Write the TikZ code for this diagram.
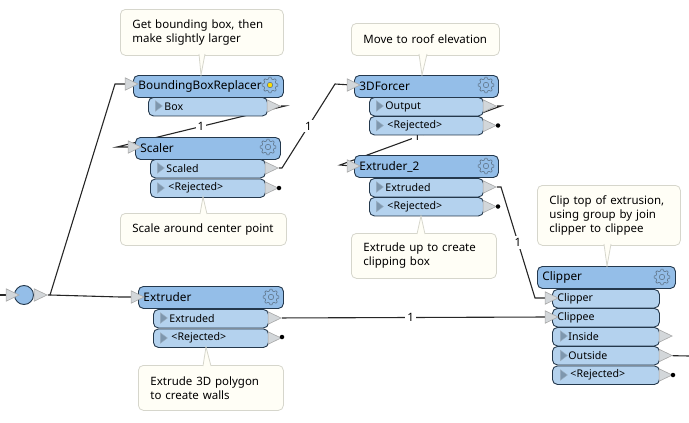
\documentclass[tikz,border=0pt]{standalone}
\usepackage{fontspec}
\setmainfont{Noto Sans}
\usetikzlibrary{shapes.geometric,backgrounds}

\definecolor{hdrblue}{HTML}{94BEE8}
\definecolor{portblue}{HTML}{B4D2EE}
\definecolor{edgeblue}{HTML}{24384C}
\definecolor{trigrey}{HTML}{D3D7DA}
\definecolor{playgrey}{HTML}{7E97AE}
\definecolor{notefill}{HTML}{FFFEF6}
\definecolor{noteline}{HTML}{D6D6CC}
\definecolor{gearline}{HTML}{5E7488}

\tikzset{
  indent/.style={execute at begin node=\hspace*{#1}},
  header/.style={draw=edgeblue, line width=0.9pt, fill=hdrblue, rounded corners=5pt, anchor=north west,
    inner xsep=0pt, inner ysep=0pt, text width=#1, minimum height=22pt, align=left,
    font=\fontsize{11.8}{14}\selectfont, indent=5pt},
  portbox/.style={draw=edgeblue, line width=0.9pt, fill=portblue, rounded corners=5pt, anchor=north west,
    inner xsep=0pt, inner ysep=0pt, text width=#1, minimum height=18.5pt, align=left,
    font=\fontsize{10.6}{13}\selectfont},
  port/.style={portbox=#1, indent=16pt},
  rejport/.style={portbox=#1, indent=18pt},
  inport/.style={portbox=#1, indent=5pt},
  note/.style={draw=noteline, line width=0.8pt, fill=notefill, rounded corners=5pt, anchor=north west,
    inner xsep=12pt, inner ysep=0pt, text width=#1, align=left,
    font=\fontsize{11.5}{14}\selectfont},
  tri/.style={isosceles triangle, isosceles triangle stretches, draw=gray!70, line width=0.6pt, fill=trigrey,
    inner sep=0pt, minimum width=12.5pt, minimum height=13pt},
  play/.style={isosceles triangle, isosceles triangle stretches, draw=playgrey!80, fill=playgrey,
    inner sep=0pt, minimum width=10.5pt, minimum height=7pt},
  wire/.style={draw=black!85, line width=1.1pt},
  count/.style={fill=white, inner sep=2pt, font=\fontsize{11.5}{13}\selectfont},
  enddot/.style={circle, fill=black, inner sep=0pt, minimum size=4.5pt},
  geariconline/.style={draw=gearline, line width=0.6pt, line join=round},
  pics/gearicon/.style={code={
    \draw[geariconline, rounded corners=0.5pt] (9:8)
      \foreach \a in {45,90,...,360} { -- (\a-35:6.3) -- (\a-10:6.3) -- (\a-9:8) -- (\a+9:8) };
    \draw[geariconline, fill=#1] (0,0) circle (2.7);
  }},
  pics/gearicon/.default=hdrblue
}
\newcommand{\notetail}[3]{
  \fill[notefill] #1 -- #2 -- #3 -- cycle;
  \draw[noteline, line width=0.8pt] #1 -- #2 -- #3;
}

\begin{document}
\begin{tikzpicture}[x=1pt,y=-1pt]
\useasboundingbox (0,0) rectangle (689,423);

% start junction
\node[circle, draw=edgeblue, line width=0.9pt, fill=hdrblue, inner sep=0pt, minimum size=19pt] (start) at (24,295) {};
\node[tri] (startin) at (10,295) {};
\node[tri] (startout) at (38,295) {};
\coordinate (left) at (0,295);
\coordinate (split) at (50,295);

% bounding box
\node[header=150pt] (bbox) at (133,75) {BoundingBoxReplacer};
\node[port=119pt] (bboxbox) at (148,97) {Box};
\node[tri] (bboxin) at (129,84) {};
\node[tri] (bboxout) at (271,106) {};
\node[play] at (158,106) {};
\pic at (270,85) {gearicon=yellow!80!orange};

% scaler
\node[header=145pt] (scaler) at (135,137) {Scaler};
\node[port=115pt] (scaled) at (150,159) {Scaled};
\node[rejport=115pt] (scalerrej) at (150,178.5) {<Rejected>};
\node[tri] (scalerin) at (132,147) {};
\node[tri] (scaledout) at (269,168) {};
\node[tri] (scalerrejout) at (269,188) {};
\node[enddot] (scalerdot) at (279,188) {};
\node[play] at (160,168) {};
\node[play] at (160,188) {};
\pic at (268,147) {gearicon};

% extruder
\node[header=145pt] (extruder) at (138,286) {Extruder};
\node[port=115pt] (extruded) at (153,309) {Extruded};
\node[rejport=115pt] (extruderrej) at (153,328.5) {<Rejected>};
\node[tri] (extruderin) at (135,297) {};
\node[tri] (extrudedout) at (272,318) {};
\node[tri] (extruderrejout) at (272,338) {};
\node[enddot] (extruderdot) at (282,337) {};
\node[play] at (163,318) {};
\node[play] at (163,338) {};
\pic at (271,297) {gearicon};

% forcer
\node[header=144pt] (forcer) at (354,75) {3DForcer};
\node[port=114pt] (output) at (369,97) {Output};
\node[rejport=114pt] (forcerrej) at (369,116) {<Rejected>};
\node[tri] (forcerin) at (351,85) {};
\node[tri] (outputout) at (487,106) {};
\node[tri] (forcerrejout) at (487,125.5) {};
\node[enddot] (forcerdot) at (498,125.5) {};
\node[play] at (379,106) {};
\node[play] at (379,125.5) {};
\pic at (486,85) {gearicon};

% second extruder
\node[header=144pt] (extrudertwo) at (354,155) {Extruder\_2};
\node[port=114pt] (extrudedtwo) at (369,178) {Extruded};
\node[rejport=114pt] (extrudertworej) at (369,197) {<Rejected>};
\node[tri] (extrudertwoin) at (351,166) {};
\node[tri] (extrudedtwoout) at (487,187) {};
\node[tri] (extrudertworejout) at (487,206.5) {};
\node[enddot] (extrudertwodot) at (498,206.5) {};
\node[play] at (379,187) {};
\node[play] at (379,206.5) {};
\pic at (486,166) {gearicon};

% clipper
\node[header=138pt] (clipper) at (537,266) {Clipper};
\node[inport=107pt] (clipperport) at (552,289) {Clipper};
\node[inport=107pt] (clippee) at (552,308) {Clippee};
\node[port=107pt] (inside) at (552,327) {Inside};
\node[port=107pt] (outside) at (552,346) {Outside};
\node[rejport=107pt] (clipperrej) at (552,365.5) {<Rejected>};
\node[tri] (clipperin) at (549,298) {};
\node[tri] (clippeein) at (549,317) {};
\node[tri] (insideout) at (663,336) {};
\node[tri] (outsideout) at (663,355.5) {};
\node[tri] (clipperrejout) at (663,375) {};
\node[enddot] (clipperdot) at (673,375) {};
\node[play] at (563,336) {};
\node[play] at (563,355.5) {};
\node[play] at (563,375) {};
\pic at (662,277) {gearicon};
\coordinate (right) at (689,356);

% annotations
\node[note=139pt, minimum height=46pt] (bboxnote) at (120,9) {Get bounding box, then\\make slightly larger};
\notetail{(199,54)}{(201,75)}{(205,54)}
\node[note=142pt, minimum height=32pt] (scalernote) at (120,213) {Scale around center point};
\notetail{(200,214)}{(203,197)}{(207,214)}
\node[note=121pt, minimum height=45pt] (extrudernote) at (138,365) {Extrude 3D polygon\\to create walls};
\notetail{(203,366)}{(206,347)}{(211,366)}
\node[note=124pt, minimum height=32pt] (forcernote) at (351,23) {Move to roof elevation};
\notetail{(419,54)}{(422,75)}{(427,54)}
\node[note=121pt, minimum height=45pt] (extrudertwonote) at (351,233) {Extrude up to create\\clipping box};
\notetail{(417,234)}{(421,216)}{(425,234)}
\node[note=119pt, minimum height=60pt] (clippernote) at (537,185) {Clip top of extrusion,\\using group by join\\clipper to clippee};
\notetail{(604,244)}{(607,266)}{(611,244)}

% wires go under the boxes
\begin{scope}[on background layer]
\draw[wire] (left) -- (startin);
\draw[wire] (startout) -- (split) -- (115,84) -- (bboxin);
\draw[wire] (split) -- (120,297) -- (extruderin);
\draw[wire] (bboxout) -- (285,106) -- node[count,pos=0.5]{1} (117,147) -- (scalerin);
\draw[wire] (scaledout) -- (282,168) -- node[count,pos=0.5]{1} (335,84) -- (forcerin);
\draw[wire] (outputout) -- (501,106) -- node[count,pos=0.52]{1} (340,165) -- (extrudertwoin);
\draw[wire] (extrudedtwoout) -- (501,187) -- node[count,pos=0.5]{1} (535,298) -- (clipperin);
\draw[wire] (extrudedout) -- node[count,pos=0.49]{1} (clippeein);
\draw[wire] (outsideout) -- (right);
\draw[wire] (scalerrejout) -- (scalerdot);
\draw[wire] (extruderrejout) -- (extruderdot);
\draw[wire] (forcerrejout) -- (forcerdot);
\draw[wire] (extrudertworejout) -- (extrudertwodot);
\draw[wire] (clipperrejout) -- (clipperdot);
\end{scope}
\end{tikzpicture}
\end{document}
